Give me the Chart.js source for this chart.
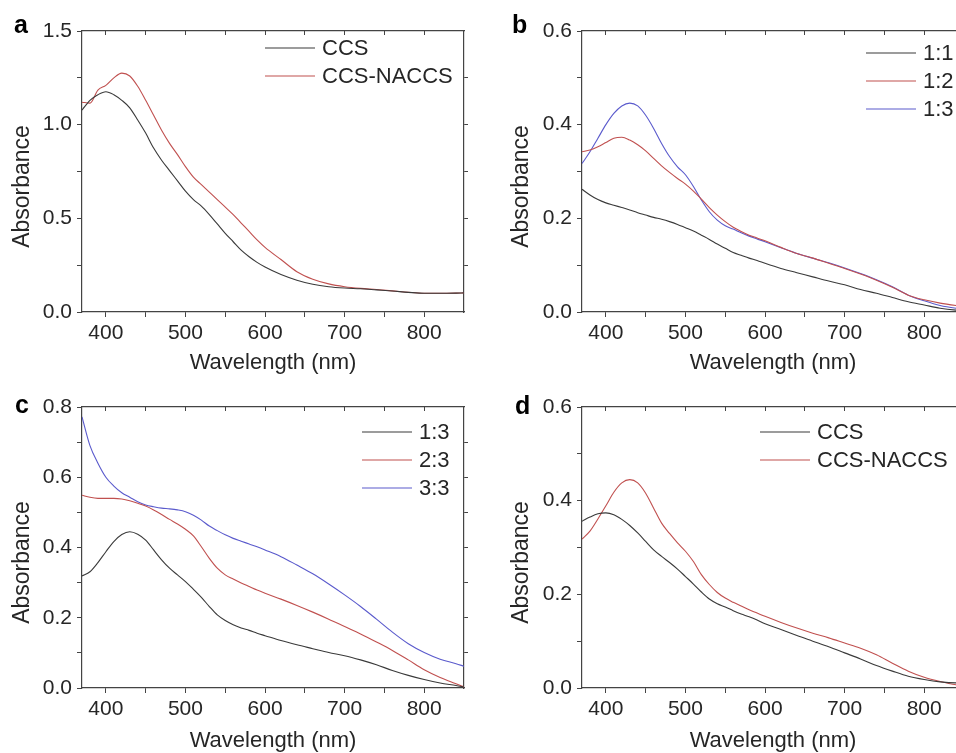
<!DOCTYPE html>
<html>
<head>
<meta charset="utf-8">
<script src="https://cdn.jsdelivr.net/npm/chart.js@4.4.0/dist/chart.umd.min.js"></script>
<style>
  html, body { margin: 0; padding: 0; background: #fff; overflow: hidden; width: 956px; height: 753px; }
  canvas { position: absolute; }
</style>
</head>
<body>
<canvas id="chartA" width="478" height="378" style="left:0;top:0"></canvas>
<canvas id="chartB" width="500" height="378" style="left:478px;top:0"></canvas>
<canvas id="chartC" width="478" height="378" style="left:0;top:378px"></canvas>
<canvas id="chartD" width="500" height="378" style="left:478px;top:378px"></canvas>
<script>
// wavelength grid (nm) shared by every curve
const wavelengths = [370, 380, 390, 400, 410, 420, 430, 440, 450, 460, 470, 480, 490, 500, 510, 520, 530, 540, 550, 560, 570, 580, 590, 600, 620, 640, 660, 680, 700, 720, 740, 760, 780, 800, 820, 840, 850];
const xTicks = [400, 450, 500, 550, 600, 650, 700, 750, 800, 850];

// panel a
const aLabels = ["CCS", "CCS-NACCS"];
const aCCS = [1.078, 1.13, 1.16, 1.176, 1.16, 1.13, 1.09, 1.025, 0.955, 0.875, 0.81, 0.755, 0.70, 0.645, 0.60, 0.565, 0.52, 0.47, 0.42, 0.375, 0.33, 0.295, 0.265, 0.24, 0.20, 0.17, 0.148, 0.135, 0.128, 0.124, 0.118, 0.112, 0.105, 0.10, 0.10, 0.101, 0.102];
const aNACCS = [1.12, 1.115, 1.185, 1.21, 1.25, 1.275, 1.26, 1.205, 1.13, 1.05, 0.97, 0.90, 0.84, 0.776, 0.72, 0.68, 0.64, 0.60, 0.56, 0.52, 0.475, 0.43, 0.385, 0.345, 0.28, 0.215, 0.175, 0.15, 0.135, 0.126, 0.12, 0.113, 0.105, 0.10, 0.10, 0.101, 0.102];

// panel b
const bLabels = ["1:1", "1:2", "1:3"];
const b11 = [0.262, 0.25, 0.24, 0.233, 0.228, 0.223, 0.218, 0.212, 0.207, 0.202, 0.198, 0.193, 0.187, 0.18, 0.173, 0.164, 0.155, 0.145, 0.136, 0.127, 0.121, 0.115, 0.11, 0.104, 0.093, 0.084, 0.075, 0.066, 0.058, 0.048, 0.04, 0.031, 0.022, 0.015, 0.008, 0.004, 0.003];
const b12 = [0.342, 0.346, 0.353, 0.362, 0.371, 0.373, 0.367, 0.357, 0.344, 0.328, 0.312, 0.298, 0.285, 0.273, 0.258, 0.241, 0.223, 0.207, 0.193, 0.181, 0.172, 0.164, 0.158, 0.152, 0.138, 0.125, 0.115, 0.104, 0.093, 0.081, 0.068, 0.053, 0.036, 0.026, 0.019, 0.014, 0.012];
const b13 = [0.317, 0.342, 0.371, 0.40, 0.424, 0.44, 0.446, 0.44, 0.42, 0.392, 0.36, 0.332, 0.31, 0.293, 0.268, 0.239, 0.214, 0.196, 0.184, 0.177, 0.169, 0.162, 0.156, 0.15, 0.137, 0.125, 0.115, 0.105, 0.094, 0.082, 0.069, 0.054, 0.036, 0.024, 0.014, 0.008, 0.006];

// panel c
const cLabels = ["1:3", "2:3", "3:3"];
const c13 = [0.319, 0.331, 0.357, 0.388, 0.417, 0.437, 0.445, 0.438, 0.421, 0.393, 0.365, 0.341, 0.322, 0.303, 0.281, 0.258, 0.232, 0.208, 0.192, 0.18, 0.171, 0.164, 0.156, 0.149, 0.135, 0.123, 0.112, 0.101, 0.092, 0.08, 0.066, 0.05, 0.036, 0.024, 0.014, 0.007, 0.003];
const c23 = [0.549, 0.543, 0.54, 0.54, 0.54, 0.538, 0.533, 0.526, 0.518, 0.507, 0.494, 0.48, 0.467, 0.452, 0.433, 0.402, 0.369, 0.341, 0.322, 0.31, 0.299, 0.289, 0.279, 0.27, 0.253, 0.235, 0.216, 0.196, 0.175, 0.154, 0.131, 0.107, 0.08, 0.052, 0.03, 0.012, 0.003];
const c33 = [0.772, 0.69, 0.64, 0.60, 0.575, 0.556, 0.543, 0.53, 0.521, 0.516, 0.512, 0.51, 0.507, 0.502, 0.492, 0.478, 0.461, 0.448, 0.436, 0.426, 0.418, 0.41, 0.402, 0.393, 0.374, 0.35, 0.325, 0.296, 0.265, 0.232, 0.196, 0.159, 0.126, 0.101, 0.082, 0.069, 0.062];

// panel d
const dLabels = ["CCS", "CCS-NACCS"];
const dCCS = [0.356, 0.365, 0.372, 0.374, 0.37, 0.36, 0.347, 0.331, 0.313, 0.295, 0.281, 0.268, 0.254, 0.238, 0.222, 0.205, 0.19, 0.18, 0.173, 0.165, 0.158, 0.152, 0.145, 0.137, 0.125, 0.112, 0.1, 0.088, 0.075, 0.062, 0.048, 0.036, 0.025, 0.018, 0.013, 0.011, 0.011];
const dNACCS = [0.318, 0.335, 0.361, 0.389, 0.418, 0.438, 0.445, 0.438, 0.416, 0.384, 0.352, 0.33, 0.31, 0.292, 0.27, 0.242, 0.221, 0.204, 0.192, 0.183, 0.175, 0.167, 0.16, 0.153, 0.14, 0.128, 0.117, 0.107, 0.096, 0.085, 0.071, 0.053, 0.036, 0.023, 0.014, 0.007, 0.005];

const BLACK = "#3a3a3a";
const RED = "#c0504f";
const BLUE = "#5a5acc";
const TEXT = "#262626";
const AXIS = "#444444";
const FONT = '"Liberation Sans", Arial, sans-serif';

// legend lines, y title and panel letter, placed like the original figure
const panelDecor = {
  id: "panelDecor",
  afterDraw(chart, args, opts) {
    const { ctx, chartArea } = chart;
    ctx.save();
    ctx.font = "22px " + FONT;
    ctx.textBaseline = "middle";
    ctx.textAlign = "left";
    chart.data.datasets.forEach((ds, i) => {
      const x = chartArea.right - opts.right;
      const y = chartArea.top + opts.top + i * 28;
      ctx.strokeStyle = ds.borderColor;
      ctx.lineWidth = 1.1;
      ctx.beginPath();
      ctx.moveTo(x, y);
      ctx.lineTo(x + 50, y);
      ctx.stroke();
      ctx.fillStyle = TEXT;
      ctx.fillText(ds.label, x + 57, y + 1);
    });

    // y title sits a bit below the plot centre in the source figure
    ctx.save();
    ctx.translate(opts.titleX, (chartArea.top + chartArea.bottom) / 2 + 15);
    ctx.rotate(-Math.PI / 2);
    ctx.textAlign = "center";
    ctx.font = "23px " + FONT;
    ctx.fillText("Absorbance", 0, 0);
    ctx.restore();

    ctx.font = "bold 25px " + FONT;
    ctx.textBaseline = "alphabetic";
    ctx.fillStyle = "#000";
    ctx.fillText(opts.letter, opts.letterX, opts.letterY);
    ctx.restore();
  },
};

function series(label, values, color) {
  return {
    label: label,
    data: wavelengths.map((w, i) => ({ x: w, y: values[i] })),
    borderColor: color,
    backgroundColor: color,
    borderWidth: 1.1,
    pointRadius: 0,
    cubicInterpolationMode: "monotone",
    fill: false,
  };
}

function isMajor(v, step) {
  return Math.abs(Math.round(v / step) * step - v) < 1e-6;
}

function makePanel(id, datasets, p) {
  const yTicks = [];
  for (let k = 0; k * p.yMinor <= p.yMax + 1e-9; k++) yTicks.push(+(k * p.yMinor).toFixed(3));
  const setX = (s) => { s.ticks = xTicks.map((v) => ({ value: v })); };
  const setY = (s) => { s.ticks = yTicks.map((v) => ({ value: v })); };
  const edgeX = (ctx) => (ctx.tick && ctx.tick.value < 850 ? AXIS : "rgba(0,0,0,0)");
  const edgeY = (ctx) => (ctx.tick && ctx.tick.value > 0 && ctx.tick.value < p.yMax - 1e-6 ? AXIS : "rgba(0,0,0,0)");

  new Chart(document.getElementById(id), {
    type: "line",
    data: { datasets: datasets },
    options: {
      responsive: false,
      animation: false,
      layout: { padding: { left: p.padLeft, right: 0, top: 0, bottom: 0 } },
      plugins: {
        legend: { display: false },
        tooltip: { enabled: false },
        panelDecor: p.decor,
      },
      scales: {
        x: {
          type: "linear",
          position: "bottom",
          min: 370,
          max: 850,
          afterBuildTicks: setX,
          ticks: {
            autoSkip: false,
            maxRotation: 0,
            padding: 4,
            color: TEXT,
            font: { family: FONT, size: 21 },
            callback: (v) => (v % 100 === 0 ? String(v) : ""),
          },
          grid: { drawOnChartArea: false, tickLength: 5, tickColor: edgeX },
          border: { color: AXIS, width: 1.2 },
          title: {
            display: true,
            text: "Wavelength (nm)",
            color: TEXT,
            font: { family: FONT, size: 22 },
            padding: { top: 0, bottom: 2 },
          },
          afterFit: (s) => { s.height = p.bottomH; },
        },
        x2: {
          type: "linear",
          position: "top",
          min: 370,
          max: 850,
          afterBuildTicks: setX,
          ticks: { display: false },
          grid: { drawOnChartArea: false, tickLength: -4, tickColor: edgeX },
          border: { color: AXIS, width: 1.2 },
          afterFit: (s) => { s.height = p.topH; },
        },
        y: {
          type: "linear",
          position: "left",
          min: 0,
          max: p.yMax,
          afterBuildTicks: setY,
          ticks: {
            autoSkip: false,
            padding: 5,
            color: TEXT,
            font: { family: FONT, size: 21 },
            callback: (v) => (isMajor(v, p.yMajor) ? v.toFixed(1) : ""),
          },
          grid: { drawOnChartArea: false, tickLength: 5, tickColor: AXIS },
          border: { color: AXIS, width: 1.2 },
          title: { display: false },
          afterFit: (s) => { s.width = p.yWidth; },
        },
        y2: {
          type: "linear",
          position: "right",
          min: 0,
          max: p.yMax,
          afterBuildTicks: setY,
          ticks: { display: false },
          grid: { drawOnChartArea: false, tickLength: 4, tickColor: edgeY },
          border: { color: AXIS, width: 1.2 },
          afterFit: (s) => { s.width = 14; },
        },
      },
    },
    plugins: [panelDecor],
  });
}

makePanel("chartA", [series(aLabels[0], aCCS, BLACK), series(aLabels[1], aNACCS, RED)], {
  yMax: 1.5, yMajor: 0.5, yMinor: 0.25, padLeft: 0, yWidth: 82, topH: 31, bottomH: 66,
  decor: { right: 199, top: 17, titleX: 23, letter: "a", letterX: 14, letterY: 33 },
});
makePanel("chartB", [series(bLabels[0], b11, BLACK), series(bLabels[1], b12, RED), series(bLabels[2], b13, BLUE)], {
  yMax: 0.6, yMajor: 0.2, yMinor: 0.1, padLeft: 21, yWidth: 83, topH: 31, bottomH: 66,
  decor: { right: 98, top: 22, titleX: 44, letter: "b", letterX: 34, letterY: 33 },
});
makePanel("chartC", [series(cLabels[0], c13, BLACK), series(cLabels[1], c23, RED), series(cLabels[2], c33, BLUE)], {
  yMax: 0.8, yMajor: 0.2, yMinor: 0.1, padLeft: 0, yWidth: 82, topH: 29, bottomH: 68,
  decor: { right: 102, top: 25, titleX: 23, letter: "c", letterX: 15, letterY: 35 },
});
makePanel("chartD", [series(dLabels[0], dCCS, BLACK), series(dLabels[1], dNACCS, RED)], {
  yMax: 0.6, yMajor: 0.2, yMinor: 0.1, padLeft: 21, yWidth: 83, topH: 29, bottomH: 68,
  decor: { right: 204, top: 25, titleX: 44, letter: "d", letterX: 37, letterY: 36 },
});
</script>
</body>
</html>
